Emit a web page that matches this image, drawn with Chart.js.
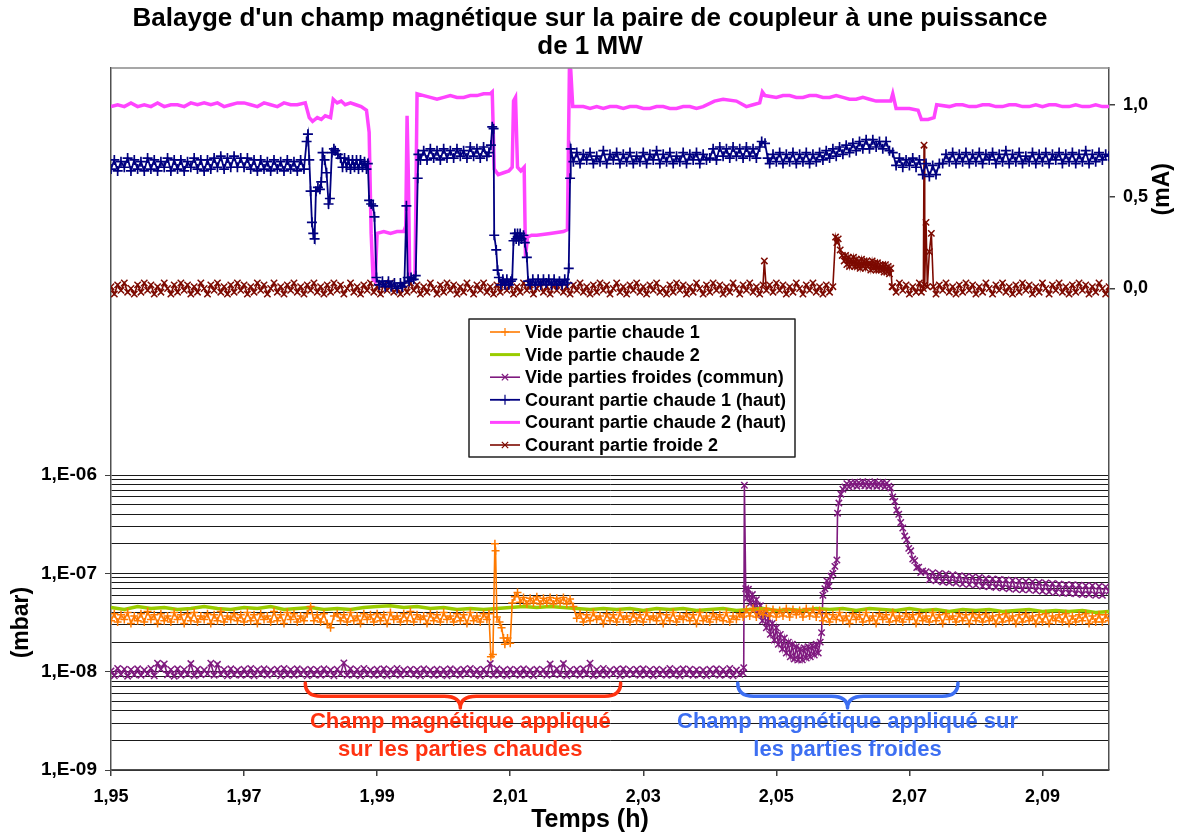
<!DOCTYPE html>
<html lang="fr">
<head>
<meta charset="utf-8">
<title>Balayage champ magnétique</title>
<script src="https://cdn.jsdelivr.net/npm/chart.js@4.4.0/dist/chart.umd.min.js"></script>
<style>
  html,body{margin:0;padding:0;background:#fff;}
  #wrap{width:1180px;height:834px;}
</style>
</head>
<body>
<div id="wrap"><canvas id="chart" width="1180" height="834"></canvas></div>
<script>
// ====== Données ======
const titleLines = ["Balayge d'un champ magnétique sur la paire de coupleur à une puissance", 'de 1 MW'];

const timeTicks = [1.95, 1.97, 1.99, 2.01, 2.03, 2.05, 2.07, 2.09];
const timeTickLabels = ['1,95', '1,97', '1,99', '2,01', '2,03', '2,05', '2,07', '2,09'];
const mbarTicks = [1e-9, 1e-8, 1e-7, 1e-6];
const mbarTickLabels = ['1,E-09', '1,E-08', '1,E-07', '1,E-06'];
const mATicks = [0, 0.5, 1.0];
const mATickLabels = ['0,0', '0,5', '1,0'];

const seriesLabels = [
  'Vide partie chaude 1',
  'Vide partie chaude 2',
  'Vide parties froides (commun)',
  'Courant partie chaude 1 (haut)',
  'Courant partie chaude 2 (haut)',
  'Courant partie froide 2'
];

// Vide partie chaude 1 (mbar)
const videChaude1 = [
 [1.9500,3.3e-8],[1.9505,3.9e-8],[1.9510,3.2e-8],[1.9515,3.8e-8],[1.9520,3.4e-8],[1.9525,4.0e-8],[1.9530,3.1e-8],[1.9535,3.7e-8],[1.9540,3.3e-8],[1.9545,3.9e-8],
 [1.9550,3.2e-8],[1.9555,4.1e-8],[1.9560,3.4e-8],[1.9565,3.8e-8],[1.9570,3.1e-8],[1.9575,3.9e-8],[1.9580,3.3e-8],[1.9585,3.7e-8],[1.9590,3.2e-8],[1.9595,4.0e-8],
 [1.9600,3.4e-8],[1.9605,3.8e-8],[1.9610,3.1e-8],[1.9615,3.9e-8],[1.9620,3.3e-8],[1.9625,4.0e-8],[1.9630,3.2e-8],[1.9635,3.7e-8],[1.9640,3.4e-8],[1.9645,3.9e-8],
 [1.9650,3.1e-8],[1.9655,3.8e-8],[1.9660,3.3e-8],[1.9665,4.1e-8],[1.9670,3.2e-8],[1.9675,3.7e-8],[1.9680,3.4e-8],[1.9685,3.9e-8],[1.9690,3.3e-8],[1.9695,3.8e-8],
 [1.9700,3.2e-8],[1.9705,4.0e-8],[1.9710,3.3e-8],[1.9715,3.8e-8],[1.9720,3.1e-8],[1.9725,3.9e-8],[1.9730,3.4e-8],[1.9735,3.7e-8],[1.9740,3.2e-8],[1.9745,4.1e-8],
 [1.9750,3.3e-8],[1.9755,3.8e-8],[1.9760,3.1e-8],[1.9765,4.0e-8],[1.9770,3.4e-8],[1.9775,3.9e-8],[1.9780,3.2e-8],[1.9785,3.7e-8],[1.9790,3.3e-8],[1.9795,3.9e-8],
 [1.9800,4.6e-8],[1.9805,3.3e-8],[1.9810,3.8e-8],[1.9815,3.2e-8],[1.9820,3.9e-8],[1.9825,3.1e-8],[1.9830,2.8e-8],[1.9835,3.7e-8],[1.9840,3.9e-8],[1.9845,3.3e-8],
 [1.9850,3.8e-8],[1.9855,3.2e-8],[1.9860,4.0e-8],[1.9865,3.3e-8],[1.9870,3.7e-8],[1.9875,3.1e-8],[1.9880,3.9e-8],[1.9885,3.4e-8],[1.9890,3.8e-8],[1.9895,3.2e-8],
 [1.9900,3.9e-8],[1.9905,3.3e-8],[1.9910,3.8e-8],[1.9915,3.1e-8],[1.9920,4.0e-8],[1.9925,3.4e-8],[1.9930,3.7e-8],[1.9935,3.2e-8],[1.9940,3.9e-8],[1.9945,3.3e-8],
 [1.9950,4.1e-8],[1.9955,3.2e-8],[1.9960,3.8e-8],[1.9965,3.4e-8],[1.9970,3.7e-8],[1.9975,3.1e-8],[1.9980,3.9e-8],[1.9985,3.3e-8],[1.9990,3.8e-8],[1.9995,3.2e-8],
 [2.0000,4.0e-8],[2.0005,3.4e-8],[2.0010,3.7e-8],[2.0015,3.2e-8],[2.0020,3.9e-8],[2.0025,3.3e-8],[2.0030,3.8e-8],[2.0035,3.1e-8],[2.0040,4.0e-8],[2.0045,3.3e-8],
 [2.0050,3.7e-8],[2.0055,3.2e-8],[2.0060,3.9e-8],[2.0065,3.4e-8],[2.0068,3.9e-8],
 [2.0071,1.42e-8],[2.0074,1.5e-8],[2.0077,2.0e-7],[2.0078,1.7e-7],[2.0080,3.6e-8],[2.0084,3.2e-8],[2.0087,2.8e-8],[2.0090,2.2e-8],[2.0092,1.9e-8],[2.0096,2.2e-8],
 [2.0100,1.95e-8],[2.0103,5.0e-8],[2.0107,5.8e-8],[2.0111,6.4e-8],[2.0115,5.1e-8],[2.0120,5.7e-8],[2.0125,4.9e-8],[2.0130,5.6e-8],[2.0135,5.0e-8],[2.0140,5.8e-8],
 [2.0145,4.9e-8],[2.0150,5.6e-8],[2.0155,5.0e-8],[2.0160,5.7e-8],[2.0165,4.9e-8],[2.0170,5.6e-8],[2.0175,5.0e-8],[2.0180,5.7e-8],[2.0185,4.9e-8],[2.0190,5.5e-8],
 [2.0195,4.6e-8],
 [2.0200,3.5e-8],[2.0205,3.9e-8],[2.0210,3.2e-8],[2.0215,3.8e-8],[2.0220,3.3e-8],[2.0225,4.0e-8],[2.0230,3.4e-8],[2.0235,3.7e-8],[2.0240,3.1e-8],[2.0245,3.9e-8],
 [2.0250,3.3e-8],[2.0255,3.8e-8],[2.0260,3.2e-8],[2.0265,4.0e-8],[2.0270,3.4e-8],[2.0275,3.7e-8],[2.0280,3.2e-8],[2.0285,3.9e-8],[2.0290,3.3e-8],[2.0295,3.8e-8],
 [2.0300,3.2e-8],[2.0305,4.0e-8],[2.0310,3.4e-8],[2.0315,3.7e-8],[2.0320,3.3e-8],[2.0325,3.9e-8],[2.0330,3.1e-8],[2.0335,3.8e-8],[2.0340,3.3e-8],[2.0345,4.0e-8],
 [2.0350,3.2e-8],[2.0355,3.7e-8],[2.0360,3.4e-8],[2.0365,3.9e-8],[2.0370,3.3e-8],[2.0375,3.8e-8],[2.0380,3.1e-8],[2.0385,4.0e-8],[2.0390,3.3e-8],[2.0395,3.7e-8],
 [2.0400,3.2e-8],[2.0405,3.9e-8],[2.0410,3.4e-8],[2.0415,3.8e-8],[2.0420,3.3e-8],[2.0425,4.0e-8],[2.0430,3.2e-8],[2.0435,3.7e-8],[2.0440,3.4e-8],[2.0445,3.9e-8],
 [2.0450,3.6e-8],[2.0455,4.3e-8],[2.0460,3.7e-8],[2.0465,4.4e-8],[2.0470,3.6e-8],[2.0475,4.2e-8],[2.0480,3.8e-8],[2.0485,4.4e-8],[2.0490,3.7e-8],[2.0495,4.3e-8],
 [2.0500,3.6e-8],[2.0505,4.2e-8],[2.0510,3.7e-8],[2.0515,4.4e-8],[2.0520,3.6e-8],[2.0525,4.3e-8],[2.0530,3.8e-8],[2.0535,4.2e-8],[2.0540,3.6e-8],[2.0545,4.4e-8],
 [2.0550,3.7e-8],[2.0555,4.3e-8],[2.0560,3.6e-8],[2.0565,4.2e-8],[2.0570,3.3e-8],[2.0575,3.9e-8],[2.0580,3.2e-8],[2.0585,3.8e-8],[2.0590,3.4e-8],[2.0595,4.0e-8],
 [2.0600,3.3e-8],[2.0605,3.7e-8],[2.0610,3.1e-8],[2.0615,3.9e-8],[2.0620,3.4e-8],[2.0625,3.8e-8],[2.0630,3.2e-8],[2.0635,4.0e-8],[2.0640,3.3e-8],[2.0645,3.7e-8],
 [2.0650,3.1e-8],[2.0655,3.9e-8],[2.0660,3.4e-8],[2.0665,3.8e-8],[2.0670,3.2e-8],[2.0675,4.0e-8],[2.0680,3.3e-8],[2.0685,3.7e-8],[2.0690,3.2e-8],[2.0695,3.9e-8],
 [2.0700,3.4e-8],[2.0705,3.8e-8],[2.0710,3.1e-8],[2.0715,3.9e-8],[2.0720,3.3e-8],[2.0725,3.7e-8],[2.0730,3.2e-8],[2.0735,4.0e-8],[2.0740,3.3e-8],[2.0745,3.8e-8],
 [2.0750,3.1e-8],[2.0755,3.9e-8],[2.0760,3.4e-8],[2.0765,3.7e-8],[2.0770,3.2e-8],[2.0775,3.9e-8],[2.0780,3.3e-8],[2.0785,3.8e-8],[2.0790,3.1e-8],[2.0795,3.9e-8],
 [2.0800,3.3e-8],[2.0805,3.8e-8],[2.0810,3.2e-8],[2.0815,3.9e-8],[2.0820,3.3e-8],[2.0825,3.7e-8],[2.0830,3.1e-8],[2.0835,3.8e-8],[2.0840,3.2e-8],[2.0845,3.9e-8],
 [2.0850,3.3e-8],[2.0855,3.7e-8],[2.0860,3.1e-8],[2.0865,3.8e-8],[2.0870,3.2e-8],[2.0875,3.9e-8],[2.0880,3.3e-8],[2.0885,3.7e-8],[2.0890,3.1e-8],[2.0895,3.8e-8],
 [2.0900,3.2e-8],[2.0905,3.9e-8],[2.0910,3.1e-8],[2.0915,3.7e-8],[2.0920,3.3e-8],[2.0925,3.8e-8],[2.0930,3.2e-8],[2.0935,3.9e-8],[2.0940,3.1e-8],[2.0945,3.7e-8],
 [2.0950,3.2e-8],[2.0955,3.8e-8],[2.0960,3.3e-8],[2.0965,3.9e-8],[2.0970,3.1e-8],[2.0975,3.7e-8],[2.0980,3.2e-8],[2.0985,3.8e-8],[2.0990,3.2e-8],[2.0995,3.8e-8],
 [2.1000,3.3e-8]
];

// Vide partie chaude 2 (mbar)
const videChaude2 = [
 [1.950,4.5e-8],[1.952,4.3e-8],[1.954,4.6e-8],[1.956,4.4e-8],[1.958,4.5e-8],[1.960,4.3e-8],[1.962,4.4e-8],[1.964,4.6e-8],[1.966,4.4e-8],[1.968,4.3e-8],
 [1.970,4.5e-8],[1.972,4.4e-8],[1.974,4.6e-8],[1.976,4.3e-8],[1.978,4.4e-8],[1.980,4.5e-8],[1.982,4.3e-8],[1.984,4.4e-8],[1.986,4.3e-8],[1.988,4.5e-8],
 [1.990,4.6e-8],[1.992,4.7e-8],[1.994,4.5e-8],[1.996,4.6e-8],[1.998,4.4e-8],[2.000,4.5e-8],[2.002,4.3e-8],[2.004,4.4e-8],[2.006,4.3e-8],[2.008,4.4e-8],
 [2.010,4.5e-8],[2.012,4.6e-8],[2.014,4.5e-8],[2.016,4.6e-8],[2.018,4.5e-8],[2.020,4.4e-8],[2.022,4.3e-8],[2.024,4.4e-8],[2.026,4.3e-8],[2.028,4.4e-8],
 [2.030,4.2e-8],[2.032,4.4e-8],[2.034,4.3e-8],[2.036,4.4e-8],[2.038,4.2e-8],[2.040,4.3e-8],[2.042,4.4e-8],[2.044,4.2e-8],[2.046,4.3e-8],[2.048,4.4e-8],
 [2.050,4.2e-8],[2.052,4.3e-8],[2.054,4.2e-8],[2.056,4.4e-8],[2.058,4.3e-8],[2.060,4.4e-8],[2.062,4.2e-8],[2.064,4.4e-8],[2.066,4.3e-8],[2.068,4.2e-8],
 [2.070,4.4e-8],[2.072,4.2e-8],[2.074,4.3e-8],[2.076,4.1e-8],[2.078,4.3e-8],[2.080,4.2e-8],[2.082,4.3e-8],[2.084,4.1e-8],[2.086,4.2e-8],[2.088,4.3e-8],
 [2.090,4.1e-8],[2.092,4.2e-8],[2.094,4.1e-8],[2.096,4.2e-8],[2.098,4.0e-8],[2.100,4.1e-8]
];

// Vide parties froides (commun) (mbar)
const videFroides = [
 [1.9500,1.02e-8],[1.9505,0.91e-8],[1.9510,1.08e-8],[1.9515,0.94e-8],[1.9520,1.06e-8],[1.9525,0.90e-8],[1.9530,1.05e-8],[1.9535,0.93e-8],[1.9540,1.07e-8],[1.9545,0.92e-8],
 [1.9550,1.04e-8],[1.9555,0.95e-8],[1.9560,1.08e-8],[1.9565,0.91e-8],[1.9570,1.22e-8],[1.9575,1.06e-8],[1.9580,1.20e-8],[1.9585,0.93e-8],[1.9590,1.05e-8],[1.9595,0.90e-8],
 [1.9600,1.07e-8],[1.9605,0.92e-8],[1.9610,1.05e-8],[1.9615,0.94e-8],[1.9620,1.21e-8],[1.9625,0.91e-8],[1.9630,1.06e-8],[1.9635,0.93e-8],[1.9640,1.04e-8],[1.9645,0.95e-8],
 [1.9650,1.22e-8],[1.9655,0.92e-8],[1.9660,1.19e-8],[1.9665,0.94e-8],[1.9670,1.05e-8],[1.9675,0.91e-8],[1.9680,1.07e-8],[1.9685,0.93e-8],[1.9690,1.04e-8],[1.9695,0.92e-8],
 [1.9700,1.06e-8],[1.9705,0.93e-8],[1.9710,1.08e-8],[1.9715,0.91e-8],[1.9720,1.05e-8],[1.9725,0.94e-8],[1.9730,1.07e-8],[1.9735,0.92e-8],[1.9740,1.04e-8],[1.9745,0.95e-8],
 [1.9750,1.06e-8],[1.9755,0.91e-8],[1.9760,1.08e-8],[1.9765,0.93e-8],[1.9770,1.05e-8],[1.9775,0.92e-8],[1.9780,1.07e-8],[1.9785,0.94e-8],[1.9790,1.04e-8],[1.9795,0.91e-8],
 [1.9800,1.06e-8],[1.9805,0.93e-8],[1.9810,1.05e-8],[1.9815,0.92e-8],[1.9820,1.07e-8],[1.9825,0.94e-8],[1.9830,1.04e-8],[1.9835,0.91e-8],[1.9840,1.06e-8],[1.9845,0.95e-8],
 [1.9850,1.23e-8],[1.9855,0.92e-8],[1.9860,1.07e-8],[1.9865,0.93e-8],[1.9870,1.05e-8],[1.9875,0.91e-8],[1.9880,1.08e-8],[1.9885,0.94e-8],[1.9890,1.04e-8],[1.9895,0.92e-8],
 [1.9900,1.06e-8],[1.9905,0.93e-8],[1.9910,1.07e-8],[1.9915,0.91e-8],[1.9920,1.05e-8],[1.9925,0.94e-8],[1.9930,1.08e-8],[1.9935,0.92e-8],[1.9940,1.04e-8],[1.9945,0.95e-8],
 [1.9950,1.06e-8],[1.9955,0.93e-8],[1.9960,1.05e-8],[1.9965,0.91e-8],[1.9970,1.07e-8],[1.9975,0.94e-8],[1.9980,1.04e-8],[1.9985,0.92e-8],[1.9990,1.06e-8],[1.9995,0.93e-8],
 [2.0000,1.05e-8],[2.0005,0.91e-8],[2.0010,1.07e-8],[2.0015,0.94e-8],[2.0020,1.04e-8],[2.0025,0.92e-8],[2.0030,1.06e-8],[2.0035,0.95e-8],[2.0040,1.08e-8],[2.0045,0.93e-8],
 [2.0050,1.05e-8],[2.0055,0.91e-8],[2.0060,1.06e-8],[2.0065,0.94e-8],[2.0070,1.21e-8],[2.0075,0.92e-8],[2.0080,1.07e-8],[2.0085,0.93e-8],[2.0090,1.04e-8],[2.0095,0.91e-8],
 [2.0100,1.06e-8],[2.0105,0.94e-8],[2.0110,1.05e-8],[2.0115,0.92e-8],[2.0120,1.07e-8],[2.0125,0.93e-8],[2.0130,1.04e-8],[2.0135,0.91e-8],[2.0140,1.06e-8],[2.0145,0.95e-8],
 [2.0150,1.05e-8],[2.0155,0.92e-8],[2.0160,1.20e-8],[2.0165,0.94e-8],[2.0170,1.07e-8],[2.0175,0.93e-8],[2.0180,1.21e-8],[2.0185,0.91e-8],[2.0190,1.05e-8],[2.0195,0.94e-8],
 [2.0200,1.06e-8],[2.0205,0.92e-8],[2.0210,1.07e-8],[2.0215,0.94e-8],[2.0220,1.22e-8],[2.0225,0.91e-8],[2.0230,1.05e-8],[2.0235,0.93e-8],[2.0240,1.08e-8],[2.0245,0.92e-8],
 [2.0250,1.04e-8],[2.0255,0.95e-8],[2.0260,1.06e-8],[2.0265,0.91e-8],[2.0270,1.07e-8],[2.0275,0.93e-8],[2.0280,1.05e-8],[2.0285,0.94e-8],[2.0290,1.06e-8],[2.0295,0.92e-8],
 [2.0300,1.07e-8],[2.0305,0.93e-8],[2.0310,1.05e-8],[2.0315,0.91e-8],[2.0320,1.06e-8],[2.0325,0.94e-8],[2.0330,1.04e-8],[2.0335,0.92e-8],[2.0340,1.08e-8],[2.0345,0.93e-8],
 [2.0350,1.05e-8],[2.0355,0.91e-8],[2.0360,1.07e-8],[2.0365,0.94e-8],[2.0370,1.06e-8],[2.0375,0.92e-8],[2.0380,1.05e-8],[2.0385,0.93e-8],[2.0390,1.04e-8],[2.0395,0.91e-8],
 [2.0400,1.06e-8],[2.0405,0.94e-8],[2.0410,1.07e-8],[2.0415,0.92e-8],[2.0420,1.05e-8],[2.0425,0.93e-8],[2.0430,1.08e-8],[2.0435,0.91e-8],[2.0440,1.04e-8],[2.0445,0.94e-8],
 [2.0450,0.97e-8],[2.0451,1.1e-8],
 [2.0452,7.9e-7],[2.0454,7.0e-8],[2.0456,5.6e-8],[2.0458,6.9e-8],[2.0461,5.0e-8],[2.0464,6.1e-8],[2.0467,4.4e-8],[2.0470,5.4e-8],[2.0473,3.8e-8],[2.0476,4.7e-8],
 [2.0479,3.3e-8],[2.0482,4.1e-8],[2.0485,2.8e-8],[2.0488,3.5e-8],[2.0491,2.4e-8],[2.0494,3.1e-8],[2.0497,2.1e-8],[2.0500,2.8e-8],[2.0503,1.9e-8],[2.0506,2.4e-8],
 [2.0509,1.7e-8],[2.0512,2.2e-8],[2.0515,1.55e-8],[2.0518,2.0e-8],[2.0521,1.42e-8],[2.0524,1.9e-8],[2.0527,1.35e-8],[2.0530,1.8e-8],[2.0533,1.32e-8],[2.0536,1.7e-8],
 [2.0539,1.32e-8],[2.0542,1.75e-8],[2.0545,1.38e-8],[2.0548,1.8e-8],[2.0551,1.42e-8],[2.0554,1.85e-8],[2.0557,1.48e-8],[2.0560,1.9e-8],[2.0563,1.55e-8],[2.0566,2.0e-8],
 [2.0568,2.5e-8],[2.0570,6.0e-8],[2.0573,7.0e-8],[2.0576,8.4e-8],[2.0579,7.4e-8],[2.0582,9.4e-8],[2.0585,1.0e-7],[2.0588,1.18e-7],[2.0591,1.37e-7],
 [2.0592,4.1e-7],[2.0594,5.2e-7],[2.0597,6.4e-7],[2.0600,7.2e-7],[2.0603,7.6e-7],[2.0606,8.2e-7],[2.0609,7.6e-7],[2.0612,8.4e-7],[2.0615,7.8e-7],[2.0618,8.5e-7],
 [2.0621,7.7e-7],[2.0624,8.4e-7],[2.0627,7.9e-7],[2.0630,8.6e-7],[2.0633,7.8e-7],[2.0636,8.5e-7],[2.0639,7.7e-7],[2.0642,8.4e-7],[2.0645,7.8e-7],[2.0648,8.6e-7],
 [2.0651,7.7e-7],[2.0654,8.3e-7],[2.0657,7.8e-7],[2.0660,8.5e-7],[2.0663,7.6e-7],[2.0666,8.3e-7],[2.0669,7.7e-7],[2.0672,7.4e-7],[2.0675,6.0e-7],[2.0678,5.4e-7],
 [2.0681,4.4e-7],[2.0684,4.0e-7],[2.0687,3.3e-7],[2.0690,2.9e-7],[2.0693,2.4e-7],[2.0696,2.2e-7],[2.0699,1.8e-7],[2.0702,1.7e-7],[2.0705,1.4e-7],[2.0708,1.35e-7],
 [2.0711,1.15e-7],[2.0714,1.16e-7],[2.0717,1.02e-7],[2.0720,1.06e-7],
 [2.0725,10.4e-8],[2.0730,8.6e-8],[2.0735,10.2e-8],[2.0740,8.4e-8],[2.0745,10.0e-8],[2.0750,8.2e-8],[2.0755,9.9e-8],[2.0760,8.1e-8],[2.0765,9.7e-8],[2.0770,8.0e-8],
 [2.0775,9.5e-8],[2.0780,7.8e-8],[2.0785,9.3e-8],[2.0790,7.7e-8],[2.0795,9.2e-8],
 [2.0800,7.6e-8],[2.0805,9.1e-8],[2.0810,7.4e-8],[2.0815,8.9e-8],[2.0820,7.3e-8],[2.0825,8.8e-8],[2.0830,7.2e-8],[2.0835,8.7e-8],[2.0840,7.1e-8],[2.0845,8.6e-8],
 [2.0850,7.0e-8],[2.0855,8.5e-8],[2.0860,6.9e-8],[2.0865,8.4e-8],[2.0870,6.8e-8],[2.0875,8.3e-8],[2.0880,6.8e-8],[2.0885,8.2e-8],[2.0890,6.7e-8],[2.0895,8.1e-8],
 [2.0900,6.6e-8],[2.0905,8.0e-8],[2.0910,6.5e-8],[2.0915,7.9e-8],[2.0920,6.4e-8],[2.0925,7.8e-8],[2.0930,6.3e-8],[2.0935,7.7e-8],[2.0940,6.3e-8],[2.0945,7.7e-8],
 [2.0950,6.2e-8],[2.0955,7.6e-8],[2.0960,6.1e-8],[2.0965,7.5e-8],[2.0970,6.1e-8],[2.0975,7.5e-8],[2.0980,6.0e-8],[2.0985,7.4e-8],[2.0990,6.0e-8],[2.0995,7.3e-8],
 [2.1000,6.6e-8]
];

// Courant partie chaude 1 (haut) (mA)
const courantChaude1 = [
 [1.9500,.65],[1.9505,.70],[1.9510,.64],[1.9515,.69],[1.9520,.66],[1.9525,.71],[1.9530,.64],[1.9535,.70],[1.9540,.65],[1.9545,.69],
 [1.9550,.64],[1.9555,.71],[1.9560,.65],[1.9565,.70],[1.9570,.64],[1.9575,.69],[1.9580,.66],[1.9585,.71],[1.9590,.64],[1.9595,.70],
 [1.9600,.65],[1.9605,.70],[1.9610,.64],[1.9615,.69],[1.9620,.66],[1.9625,.71],[1.9630,.65],[1.9635,.70],[1.9640,.64],[1.9645,.70],
 [1.9650,.65],[1.9655,.71],[1.9660,.66],[1.9665,.72],[1.9670,.65],[1.9675,.71],[1.9680,.66],[1.9685,.72],[1.9690,.66],[1.9695,.71],
 [1.9700,.66],[1.9705,.71],[1.9710,.65],[1.9715,.70],[1.9720,.64],[1.9725,.70],[1.9730,.65],[1.9735,.69],[1.9740,.64],[1.9745,.70],
 [1.9750,.65],[1.9755,.69],[1.9760,.64],[1.9765,.70],[1.9770,.65],[1.9775,.69],[1.9780,.64],[1.9785,.70],[1.9790,.65],
 [1.9794,.80],[1.9796,.84],[1.9798,.70],[1.9800,.53],[1.9802,.36],[1.9804,.30],[1.9806,.27],[1.9808,.53],[1.9811,.55],[1.9814,.54],
 [1.9816,.58],[1.9818,.74],[1.9821,.70],[1.9824,.63],[1.9827,.46],[1.9829,.49],[1.9832,.74],[1.9835,.76],[1.9837,.75],[1.9841,.73],
 [1.9845,.71],[1.9848,.66],[1.9851,.71],[1.9854,.66],[1.9857,.70],[1.9860,.65],[1.9863,.70],[1.9866,.66],[1.9869,.70],[1.9872,.65],
 [1.9875,.70],[1.9878,.66],[1.9881,.69],[1.9884,.65],[1.9886,.68],
 [1.9888,.48],[1.9891,.46],[1.9894,.45],[1.9896,.39],[1.9899,.06],[1.9903,.02],[1.9908,.04],[1.9912,.01],[1.9917,.04],[1.9921,.01],
 [1.9926,.03],[1.9930,.00],[1.9935,.03],[1.9938,.01],[1.9941,.03],
 [1.9944,.45],[1.9946,.06],[1.9948,.04],[1.9951,.06],[1.9955,.05],[1.9958,.07],[1.9961,.60],[1.9962,.73],
 [1.9965,.70],[1.9970,.75],[1.9975,.70],[1.9980,.76],[1.9985,.71],[1.9990,.75],[1.9995,.70],[2.0000,.76],[2.0005,.71],[2.0010,.75],
 [2.0015,.71],[2.0020,.76],[2.0025,.72],[2.0030,.75],[2.0035,.71],[2.0040,.77],[2.0045,.72],[2.0050,.76],[2.0055,.71],[2.0060,.77],
 [2.0065,.72],[2.0068,.74],[2.0071,.78],[2.0073,.88],[2.0075,.87],[2.0076,.29],[2.0079,.21],[2.0081,.10],[2.0083,.06],[2.0086,.02],
 [2.0089,.05],[2.0092,.02],[2.0095,.05],[2.0098,.02],[2.0101,.04],[2.0103,.05],
 [2.0105,.26],[2.0107,.30],[2.0109,.27],[2.0111,.30],[2.0113,.26],[2.0115,.30],[2.0117,.27],[2.0120,.29],[2.0122,.25],[2.0125,.17],
 [2.0127,.04],[2.0130,.02],[2.0134,.05],[2.0138,.02],[2.0142,.05],[2.0146,.02],[2.0150,.05],[2.0154,.03],[2.0158,.05],[2.0162,.02],
 [2.0166,.05],[2.0170,.02],[2.0174,.04],[2.0178,.02],[2.0182,.05],[2.0186,.03],[2.0188,.11],
 [2.0190,.60],[2.0191,.76],[2.0195,.69],
 [2.0200,.74],[2.0205,.68],[2.0210,.73],[2.0215,.70],[2.0220,.74],[2.0225,.68],[2.0230,.72],[2.0235,.69],[2.0240,.75],[2.0245,.68],
 [2.0250,.73],[2.0255,.70],[2.0260,.74],[2.0265,.68],[2.0270,.73],[2.0275,.69],[2.0280,.74],[2.0285,.68],[2.0290,.72],[2.0295,.69],
 [2.0300,.74],[2.0305,.68],[2.0310,.73],[2.0315,.70],[2.0320,.75],[2.0325,.68],[2.0330,.73],[2.0335,.69],[2.0340,.74],[2.0345,.68],
 [2.0350,.72],[2.0355,.69],[2.0360,.74],[2.0365,.68],[2.0370,.73],[2.0375,.70],[2.0380,.74],[2.0385,.68],[2.0390,.73],[2.0395,.70],
 [2.0400,.71],[2.0405,.76],[2.0410,.70],[2.0415,.77],[2.0420,.72],[2.0425,.76],[2.0430,.71],[2.0435,.77],[2.0440,.72],[2.0445,.76],
 [2.0450,.71],[2.0455,.77],[2.0460,.72],[2.0465,.76],[2.0470,.71],[2.0475,.77],[2.0478,.80],[2.0483,.79],[2.0487,.71],
 [2.0490,.68],[2.0495,.73],[2.0500,.69],[2.0505,.74],[2.0510,.68],[2.0515,.73],[2.0520,.69],[2.0525,.74],[2.0530,.68],[2.0535,.73],
 [2.0540,.69],[2.0545,.74],[2.0550,.68],[2.0555,.73],[2.0560,.69],[2.0565,.74],
 [2.0570,.70],[2.0575,.75],[2.0580,.71],[2.0585,.76],[2.0590,.72],[2.0595,.77],[2.0600,.73],[2.0605,.78],[2.0610,.74],[2.0615,.79],
 [2.0620,.75],[2.0625,.80],[2.0630,.76],[2.0635,.81],[2.0640,.76],[2.0645,.81],[2.0650,.77],[2.0655,.80],[2.0660,.76],[2.0665,.80],
 [2.0670,.75],[2.0675,.74],
 [2.0680,.67],[2.0685,.71],[2.0690,.66],[2.0695,.70],[2.0700,.67],[2.0705,.71],[2.0710,.66],[2.0715,.70],
 [2.0720,.62],[2.0725,.68],[2.0730,.61],[2.0735,.67],[2.0740,.62],[2.0745,.68],
 [2.0750,.68],[2.0755,.73],[2.0760,.69],[2.0765,.74],[2.0770,.68],[2.0775,.73],[2.0780,.69],[2.0785,.74],[2.0790,.68],[2.0795,.73],
 [2.0800,.69],[2.0805,.74],[2.0810,.68],[2.0815,.73],[2.0820,.70],[2.0825,.74],[2.0830,.68],[2.0835,.73],[2.0840,.69],[2.0845,.75],
 [2.0850,.68],[2.0855,.73],[2.0860,.69],[2.0865,.74],[2.0870,.68],[2.0875,.72],[2.0880,.69],[2.0885,.74],[2.0890,.68],[2.0895,.73],
 [2.0900,.69],[2.0905,.74],[2.0910,.68],[2.0915,.73],[2.0920,.70],[2.0925,.74],[2.0930,.68],[2.0935,.73],[2.0940,.69],[2.0945,.74],
 [2.0950,.68],[2.0955,.73],[2.0960,.69],[2.0965,.75],[2.0970,.68],[2.0975,.73],[2.0980,.69],[2.0985,.74],[2.0990,.70],[2.0995,.73],
 [2.1000,.72]
];

// Courant partie chaude 2 (haut) (mA)
const courantChaude2 = [
 [1.950,.99],[1.951,1.00],[1.952,.99],[1.953,1.01],[1.954,.99],[1.955,1.00],[1.956,.99],[1.957,1.01],[1.958,.99],[1.959,1.00],
 [1.960,1.00],[1.961,.99],[1.962,1.01],[1.963,1.00],[1.964,1.01],[1.965,1.00],[1.966,1.01],[1.967,.99],[1.968,1.00],[1.969,1.01],
 [1.970,1.01],[1.971,1.00],[1.972,.99],[1.973,1.01],[1.974,1.00],[1.975,.99],[1.976,1.01],[1.977,1.00],[1.978,1.00],[1.9792,1.01],
 [1.9798,.93],[1.9803,.91],[1.9810,.93],[1.9816,.92],[1.9822,.94],[1.9830,.93],[1.9834,1.03],[1.9840,1.01],[1.9846,1.02],[1.9852,1.00],
 [1.9860,1.01],[1.9868,1.00],[1.9876,.99],[1.9884,.97],[1.9888,.85],[1.9891,.30],[1.9894,.05],[1.9897,.04],[1.9900,.30],[1.9910,.31],
 [1.9920,.30],[1.9930,.31],[1.9940,.31],[1.9943,.34],[1.9945,.94],[1.9947,.60],[1.9949,.05],[1.9954,.05],[1.9957,.08],[1.9960,1.06],
 [1.997,1.05],[1.998,1.04],[1.999,1.03],[2.000,1.04],[2.001,1.05],[2.002,1.04],[2.003,1.04],[2.004,1.05],[2.005,1.05],[2.006,1.06],
 [2.007,1.06],[2.0073,1.07],[2.0076,.65],[2.0082,.62],[2.0090,.63],
 [2.0098,.64],[2.0103,.66],[2.0105,1.02],[2.0108,1.04],[2.0111,.66],[2.0116,.64],[2.0121,.66],[2.0123,.17],[2.0126,.28],[2.0132,.29],
 [2.014,.29],[2.016,.30],[2.018,.31],[2.0186,.32],[2.0189,1.20],[2.0191,1.19],[2.0194,.99],
 [2.021,.99],[2.022,.98],[2.023,.99],[2.024,.98],[2.025,.99],[2.026,.99],[2.027,.98],[2.028,.99],[2.029,.99],[2.030,.98],
 [2.031,.98],[2.032,.99],[2.033,.99],[2.034,.98],[2.035,.98],[2.036,.99],[2.037,.99],[2.038,.98],[2.039,.99],
 [2.0407,1.02],[2.042,1.03],[2.044,1.02],[2.0455,.99],[2.0465,1.00],[2.0475,1.01],[2.0479,1.07],[2.0483,1.05],[2.050,1.04],[2.051,1.05],[2.052,1.05],
 [2.053,1.04],[2.054,1.04],[2.055,1.05],[2.056,1.05],[2.057,1.04],[2.058,1.04],[2.059,1.05],[2.060,1.04],[2.061,1.03],[2.062,1.03],
 [2.063,1.04],[2.064,1.03],[2.065,1.02],[2.066,1.02],[2.0672,1.02],[2.0675,1.06],[2.0680,.98],
 [2.0700,.98],[2.0713,.97],[2.0718,.92],[2.0728,.92],[2.0737,.93],[2.0741,1.00],[2.076,.99],[2.077,1.00],[2.078,1.00],[2.079,.99],
 [2.080,.99],[2.081,1.00],[2.082,1.00],[2.083,.99],[2.084,.99],[2.085,1.00],[2.086,1.00],[2.087,.99],[2.088,.99],[2.089,1.00],
 [2.090,.99],[2.091,1.00],[2.092,1.00],[2.093,.99],[2.094,.99],[2.095,1.00],[2.096,.99],[2.097,.99],[2.098,1.00],[2.099,.99],[2.100,.99]
];

// Courant partie froide 2 (mA)
const courantFroide2 = [
 [1.9500,.01],[1.9505,-.03],[1.9510,.02],[1.9515,-.01],[1.9520,.03],[1.9525,-.02],[1.9530,.00],[1.9535,-.03],[1.9540,.02],[1.9545,-.02],
 [1.9550,.03],[1.9555,-.01],[1.9560,.02],[1.9565,-.03],[1.9570,.01],[1.9575,-.02],[1.9580,.03],[1.9585,.00],[1.9590,-.03],[1.9595,.02],
 [1.9600,-.02],[1.9605,.03],[1.9610,-.01],[1.9615,.02],[1.9620,-.03],[1.9625,.01],[1.9630,-.02],[1.9635,.03],[1.9640,.00],[1.9645,-.03],
 [1.9650,.02],[1.9655,-.01],[1.9660,.03],[1.9665,-.02],[1.9670,.01],[1.9675,-.03],[1.9680,.02],[1.9685,-.02],[1.9690,.03],[1.9695,-.01],
 [1.9700,.02],[1.9705,-.03],[1.9710,.01],[1.9715,-.02],[1.9720,.03],[1.9725,-.01],[1.9730,.02],[1.9735,-.03],[1.9740,.00],[1.9745,.03],
 [1.9750,-.02],[1.9755,.01],[1.9760,-.03],[1.9765,.02],[1.9770,-.01],[1.9775,.03],[1.9780,-.02],[1.9785,.01],[1.9790,-.03],[1.9795,.02],
 [1.9800,-.01],[1.9805,.03],[1.9810,-.02],[1.9815,.01],[1.9820,-.03],[1.9825,.02],[1.9830,-.02],[1.9835,.03],[1.9840,-.01],[1.9845,.02],
 [1.9850,-.03],[1.9855,.00],[1.9860,.03],[1.9865,-.02],[1.9870,.01],[1.9875,-.03],[1.9880,.02],[1.9885,-.01],[1.9890,.03],[1.9895,-.02],
 [1.9900,.01],[1.9905,-.03],[1.9910,.02],[1.9915,-.01],[1.9920,.03],[1.9925,-.02],[1.9930,.00],[1.9935,-.03],[1.9940,.02],[1.9945,-.02],
 [1.9950,.03],[1.9955,-.01],[1.9960,.02],[1.9965,-.03],[1.9970,.01],[1.9975,-.02],[1.9980,.03],[1.9985,.00],[1.9990,-.03],[1.9995,.02],
 [2.0000,-.02],[2.0005,.03],[2.0010,-.01],[2.0015,.02],[2.0020,-.03],[2.0025,.01],[2.0030,-.02],[2.0035,.03],[2.0040,.00],[2.0045,-.03],
 [2.0050,.02],[2.0055,-.01],[2.0060,.03],[2.0065,-.02],[2.0070,.01],[2.0075,-.03],[2.0080,.02],[2.0085,-.02],[2.0090,.03],[2.0095,-.01],
 [2.0100,.02],[2.0105,-.03],[2.0110,.01],[2.0115,-.02],[2.0120,.03],[2.0125,-.01],[2.0130,.02],[2.0135,-.03],[2.0140,.00],[2.0145,.03],
 [2.0150,-.02],[2.0155,.01],[2.0160,-.03],[2.0165,.02],[2.0170,-.01],[2.0175,.03],[2.0180,-.02],[2.0185,.01],[2.0190,-.03],[2.0195,.02],
 [2.0200,-.01],[2.0205,.03],[2.0210,-.02],[2.0215,.01],[2.0220,-.03],[2.0225,.02],[2.0230,-.02],[2.0235,.03],[2.0240,-.01],[2.0245,.02],
 [2.0250,-.03],[2.0255,.00],[2.0260,.03],[2.0265,-.02],[2.0270,.01],[2.0275,-.03],[2.0280,.02],[2.0285,-.01],[2.0290,.03],[2.0295,-.02],
 [2.0300,.01],[2.0305,-.03],[2.0310,.02],[2.0315,-.01],[2.0320,.03],[2.0325,-.02],[2.0330,.00],[2.0335,-.03],[2.0340,.02],[2.0345,-.02],
 [2.0350,.03],[2.0355,-.01],[2.0360,.02],[2.0365,-.03],[2.0370,.01],[2.0375,-.02],[2.0380,.03],[2.0385,.00],[2.0390,-.03],[2.0395,.02],
 [2.0400,-.02],[2.0405,.03],[2.0410,-.01],[2.0415,.02],[2.0420,-.03],[2.0425,.01],[2.0430,-.02],[2.0435,.03],[2.0440,.00],[2.0445,-.03],
 [2.0450,.02],[2.0455,-.01],[2.0460,.03],[2.0465,-.02],[2.0470,.01],[2.0475,-.03],[2.0480,.02],[2.0482,.15],[2.0485,-.01],
 [2.0490,.02],[2.0495,-.02],[2.0500,.03],[2.0505,-.01],[2.0510,.02],[2.0515,-.03],[2.0520,.01],[2.0525,-.02],[2.0530,.03],[2.0535,.00],
 [2.0540,-.03],[2.0545,.02],[2.0550,-.01],[2.0555,.03],[2.0560,-.02],[2.0565,.01],[2.0570,-.03],[2.0575,.02],[2.0580,-.02],[2.0585,.01],
 [2.0589,.28],[2.0591,.25],[2.0593,.27],[2.0596,.21],[2.0599,.18],[2.0602,.15],[2.0604,.18],[2.0606,.13],[2.0608,.17],[2.0610,.12],
 [2.0612,.16],[2.0614,.13],[2.0616,.17],[2.0618,.12],[2.0620,.16],[2.0622,.12],[2.0624,.15],[2.0626,.11],[2.0628,.16],[2.0630,.12],
 [2.0632,.15],[2.0634,.11],[2.0636,.15],[2.0638,.12],[2.0640,.14],[2.0642,.10],[2.0644,.15],[2.0646,.11],[2.0648,.14],[2.0650,.10],
 [2.0652,.14],[2.0654,.10],[2.0656,.13],[2.0658,.10],[2.0660,.13],[2.0662,.09],[2.0664,.13],[2.0666,.09],[2.0668,.12],[2.0670,.08],
 [2.0672,.11],[2.0674,.01],
 [2.0675,.01],[2.0680,-.02],[2.0685,.03],[2.0690,-.01],[2.0695,.02],[2.0700,-.03],[2.0705,.01],[2.0710,-.02],[2.0715,.03],
 [2.0718,-.02],[2.0721,.00],[2.0722,.78],[2.0723,.02],[2.0725,.36],[2.0727,.01],[2.0730,.20],[2.0733,.30],[2.0736,.01],
 [2.0740,-.03],[2.0745,.02],[2.0750,-.01],[2.0755,.03],[2.0760,-.02],[2.0765,.01],[2.0770,-.03],[2.0775,.02],[2.0780,-.02],[2.0785,.03],
 [2.0790,-.01],[2.0795,.02],
 [2.0800,-.03],[2.0805,.01],[2.0810,-.02],[2.0815,.03],[2.0820,.00],[2.0825,-.03],[2.0830,.02],[2.0835,-.01],[2.0840,.03],[2.0845,-.02],
 [2.0850,.01],[2.0855,-.03],[2.0860,.02],[2.0865,-.02],[2.0870,.03],[2.0875,-.01],[2.0880,.02],[2.0885,-.03],[2.0890,.01],[2.0895,-.02],
 [2.0900,.03],[2.0905,.00],[2.0910,-.03],[2.0915,.02],[2.0920,-.01],[2.0925,.03],[2.0930,-.02],[2.0935,.01],[2.0940,-.03],[2.0945,.02],
 [2.0950,-.02],[2.0955,.03],[2.0960,-.01],[2.0965,.02],[2.0970,-.03],[2.0975,.01],[2.0980,-.02],[2.0985,.03],[2.0990,.00],[2.0995,-.03],
 [2.1000,.01]
];

// ====== Mise en forme ======
const FONT = '"Liberation Sans", Arial, sans-serif';
const toXY = pts => pts.map(p => ({x: p[0], y: p[1]}));
const sameVal = (a, b) => Math.abs(Math.log10(a) - Math.log10(b)) < 1e-6;

// quadrillage log : 1..9 x chaque décade entre 1E-09 et 1E-06
const mbarGrid = [];
for (let d = -9; d < -6; d++) for (let m = 1; m < 10; m++) mbarGrid.push(m * Math.pow(10, d));
mbarGrid.push(1e-6);

// accolades + textes (en unités des axes)
const notes = [
  {from: 1.9792, to: 2.0266, mid: 2.0025, color: '#ff3311',
   lines: ['Champ magnétique appliqué', 'sur les parties chaudes']},
  {from: 2.0442, to: 2.0773, mid: 2.0607, color: '#3d6ff2',
   lines: ['Champ magnétique appliqué sur', 'les parties froides']}
];

function drawMark(ctx, style, x, y, r){
  ctx.beginPath();
  if (style === 'cross'){
    ctx.moveTo(x - r, y); ctx.lineTo(x + r, y);
    ctx.moveTo(x, y - r); ctx.lineTo(x, y + r);
  } else {
    const k = r * 0.7071;
    ctx.moveTo(x - k, y - k); ctx.lineTo(x + k, y + k);
    ctx.moveTo(x - k, y + k); ctx.lineTo(x + k, y - k);
  }
  ctx.stroke();
}

function drawBrace(ctx, x1, x2, xm, yTop, yMid, yTip){
  const c = 16;
  ctx.beginPath();
  ctx.moveTo(x1, yTop);
  ctx.quadraticCurveTo(x1, yMid, x1 + c, yMid);
  ctx.lineTo(xm - c, yMid);
  ctx.quadraticCurveTo(xm, yMid, xm, yTip);
  ctx.quadraticCurveTo(xm, yMid, xm + c, yMid);
  ctx.lineTo(x2 - c, yMid);
  ctx.quadraticCurveTo(x2, yMid, x2, yTop);
  ctx.stroke();
}

const decor = {
  id: 'decor',
  afterDraw(chart){
    const {ctx, chartArea: a, scales} = chart;
    const yl = scales.y, yr = scales.y2, xs = scales.x;
    ctx.save();

    // bord haut du cadre
    ctx.strokeStyle = '#8a8a8a'; ctx.lineWidth = 1.5;
    ctx.beginPath(); ctx.moveTo(a.left, a.top); ctx.lineTo(a.right, a.top); ctx.stroke();

    // titre
    ctx.fillStyle = '#000'; ctx.textAlign = 'center'; ctx.textBaseline = 'middle';
    ctx.font = 'bold 26px ' + FONT;
    titleLines.forEach((t, i) => ctx.fillText(t, 590, 19 + i * 28));

    // titres des axes
    ctx.font = 'bold 25px ' + FONT;
    ctx.fillText('Temps (h)', 590, 820);
    ctx.font = 'bold 23px ' + FONT;
    ctx.save(); ctx.translate(22, yl.getPixelForValue(Math.pow(10, -7.5))); ctx.rotate(-Math.PI / 2);
    ctx.fillText('(mbar)', 0, 0); ctx.restore();
    ctx.save(); ctx.translate(1163, yr.getPixelForValue(0.54)); ctx.rotate(-Math.PI / 2);
    ctx.fillText('(mA)', 0, 0); ctx.restore();

    // accolades + annotations
    notes.forEach(n => {
      ctx.strokeStyle = n.color; ctx.fillStyle = n.color; ctx.lineWidth = 3.5;
      ctx.lineCap = 'round'; ctx.lineJoin = 'round';
      drawBrace(ctx, xs.getPixelForValue(n.from), xs.getPixelForValue(n.to), xs.getPixelForValue(n.mid),
        yl.getPixelForValue(Math.pow(10, -8.115)), yl.getPixelForValue(Math.pow(10, -8.25)),
        yl.getPixelForValue(Math.pow(10, -8.37)));
      ctx.font = 'bold 22px ' + FONT;
      n.lines.forEach((t, i) => ctx.fillText(t, xs.getPixelForValue(n.mid),
        yl.getPixelForValue(Math.pow(10, i ? -8.80 : -8.515))));
    });

    // légende
    const box = {x: 469, y: 319, w: 326, h: 138};
    ctx.fillStyle = '#fff'; ctx.fillRect(box.x, box.y, box.w, box.h);
    ctx.strokeStyle = '#222'; ctx.lineWidth = 1.5; ctx.lineCap = 'butt';
    ctx.strokeRect(box.x, box.y, box.w, box.h);
    ctx.font = 'bold 18px ' + FONT; ctx.textAlign = 'left';
    chart.data.datasets.forEach((ds, i) => {
      const y = box.y + 13 + i * 22.6;
      ctx.strokeStyle = ds.borderColor; ctx.lineWidth = Math.min(ds.borderWidth, 3);
      ctx.beginPath(); ctx.moveTo(490, y); ctx.lineTo(520, y); ctx.stroke();
      if (ds.pointRadius > 0){ ctx.lineWidth = 1.2; drawMark(ctx, ds.pointStyle, 505, y, ds.pointRadius); }
      ctx.fillStyle = '#000'; ctx.fillText(ds.label, 525, y + 1);
    });
    ctx.restore();
  }
};

function lineSet(label, pts, axis, color, width, mark, r, pw){
  return {
    label, data: toXY(pts), yAxisID: axis,
    borderColor: color, backgroundColor: color, borderWidth: width,
    pointStyle: mark || 'circle', pointRadius: mark ? r : 0, pointBorderWidth: pw || 1.3,
    pointBorderColor: color, pointHoverRadius: 0, tension: 0, fill: false
  };
}

new Chart(document.getElementById('chart'), {
  type: 'line',
  data: {
    datasets: [
      lineSet(seriesLabels[0], videChaude1, 'y', '#ff7a00', 1.6, 'cross', 4, 1.5),
      lineSet(seriesLabels[1], videChaude2, 'y', '#99cc00', 3.5, null, 0),
      lineSet(seriesLabels[2], videFroides, 'y', '#7f1a7f', 1.6, 'crossRot', 4.5, 1.5),
      lineSet(seriesLabels[3], courantChaude1, 'y2', '#000080', 1.8, 'cross', 5, 1.7),
      lineSet(seriesLabels[4], courantChaude2, 'y2', '#ff44ff', 3.5, null, 0),
      lineSet(seriesLabels[5], courantFroide2, 'y2', '#7d0a00', 1.6, 'crossRot', 4.5, 1.5)
    ]
  },
  options: {
    responsive: false,
    animation: false,
    layout: {padding: {top: 68, left: 0, right: 0, bottom: 0}},
    plugins: {legend: {display: false}, title: {display: false}, tooltip: {enabled: false}},
    scales: {
      x: {
        type: 'linear', min: 1.95, max: 2.10,
        afterBuildTicks: s => { s.ticks = timeTicks.map(v => ({value: v})); },
        afterFit: s => { s.height = 64; },
        ticks: {
          autoSkip: false, maxRotation: 0, padding: 10, color: '#000',
          font: {family: FONT, size: 18, weight: 'bold'},
          callback: (v) => timeTickLabels[timeTicks.findIndex(t => Math.abs(t - v) < 1e-9)] || ''
        },
        grid: {drawOnChartArea: false, tickLength: 6, color: '#404040', lineWidth: 1.5},
        border: {color: '#505050', width: 1.5}
      },
      y: {
        type: 'logarithmic', position: 'left', min: 1e-9, max: Math.pow(10, -1.857),
        afterBuildTicks: s => { s.ticks = mbarGrid.map(v => ({value: v})); },
        afterFit: s => { s.width = 111; },
        ticks: {
          autoSkip: false, padding: 8, color: '#000',
          font: {family: FONT, size: 19, weight: 'bold'},
          callback: (v) => {
            const i = mbarTicks.findIndex(t => sameVal(t, v));
            return i >= 0 ? mbarTickLabels[i] : '';
          }
        },
        grid: {
          drawOnChartArea: true, tickLength: 6, lineWidth: 1, color: '#1a1a1a',
          tickColor: c => (mbarTicks.some(t => sameVal(t, c.tick.value)) ? '#404040' : 'rgba(0,0,0,0)')
        },
        border: {color: '#505050', width: 1.5}
      },
      y2: {
        type: 'linear', position: 'right', min: -2.62, max: 1.2,
        afterBuildTicks: s => { s.ticks = mATicks.map(v => ({value: v})); },
        afterFit: s => { s.width = 71; },
        ticks: {
          autoSkip: false, padding: 8, color: '#000',
          font: {family: FONT, size: 18, weight: 'bold'},
          callback: (v) => mATickLabels[mATicks.findIndex(t => Math.abs(t - v) < 1e-9)] || ''
        },
        grid: {drawOnChartArea: false, tickLength: 6, color: '#404040', lineWidth: 1.5},
        border: {color: '#505050', width: 1.5}
      }
    }
  },
  plugins: [decor]
});
</script>
</body>
</html>
